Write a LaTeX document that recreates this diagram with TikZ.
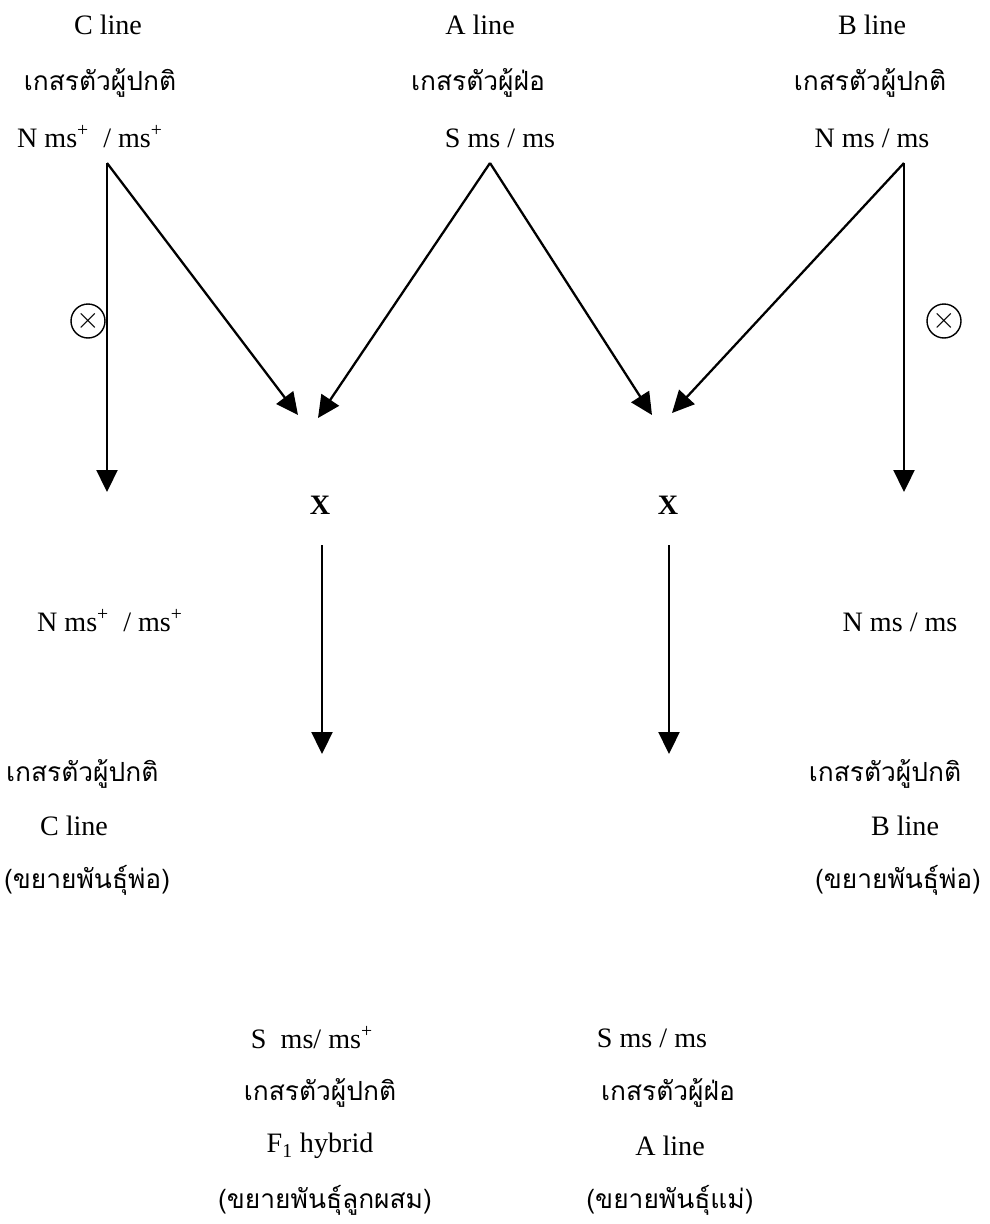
\documentclass[tikz,border=0pt]{standalone}
\usepackage{fontspec}
\setmainfont{Liberation Serif}
\newfontfamily\thaifont[Script=Thai]{Loma}
\usetikzlibrary{arrows.meta, positioning}
\newcommand{\lbsize}{\fontsize{16}{19}\selectfont}
\newcommand{\thsize}{\fontsize{15}{18}\selectfont}
\tikzset{
  arrowK/.style={-{Triangle[length=4.4mm, width=4.2mm]}, black, line width=1.3pt},
  lbl/.style={font=\lbsize, inner sep=1pt},
  thai/.style={font=\thaifont\thsize, inner sep=1pt},
  crossX/.style={font=\bfseries\lbsize, inner sep=1pt},
  selfX/.style={circle, draw, line width=0.8pt, minimum size=6.8mm, inner sep=0pt,
                font=\lbsize},
}
\begin{document}
\begin{tikzpicture}[x=0.02cm, y=-0.02cm]
  \useasboundingbox (0,0) rectangle (990,1224);
  % parent lines
  \node[lbl]  (cName) at (108,25)  {C line};
  \node[thai] (cPol)  at (100,83)  {เกสรตัวผู้ปกติ};
  \node[lbl]  (cGen)  at (90,137)  {N ms\textsuperscript{+}\ \ / ms\textsuperscript{+}};
  \node[lbl]  (aName) at (480,25)  {A line};
  \node[thai] (aPol)  at (478,83)  {เกสรตัวผู้ฝ่อ};
  \node[lbl]  (aGen)  at (500,138) {S ms / ms};
  \node[lbl]  (bName) at (872,25)  {B line};
  \node[thai] (bPol)  at (870,83)  {เกสรตัวผู้ปกติ};
  \node[lbl]  (bGen)  at (872,138) {N ms / ms};
  \coordinate (cTop) at (107,163);
  \coordinate (aTop) at (490,163);
  \coordinate (bTop) at (904,163);
  % crosses
  \coordinate (xlC) at (298,415);
  \coordinate (xlA) at (318,418);
  \coordinate (xrA) at (652,415);
  \coordinate (xrB) at (672,413);
  \node[crossX] (crossL) at (320,505) {X};
  \node[crossX] (crossR) at (668,505) {X};
  \draw[arrowK] (cTop) -- (xlC);
  \draw[arrowK] (aTop) -- (xlA);
  \draw[arrowK] (aTop) -- (xrA);
  \draw[arrowK] (bTop) -- (xrB);
  % selfing
  \node[selfX] (selfC) at (88,321)  {$\times$};
  \node[selfX] (selfB) at (944,321) {$\times$};
  \coordinate (cEnd) at (107,492);
  \coordinate (bEnd) at (904,492);
  \draw[arrowK] (cTop) -- (cEnd);
  \draw[arrowK] (bTop) -- (bEnd);
  \node[lbl] (cSelf) at (110,621) {N ms\textsuperscript{+}\ \ / ms\textsuperscript{+}};
  \node[lbl] (bSelf) at (900,622) {N ms / ms};
  \node[thai, anchor=west] (cPol2) at (4,774)  {เกสรตัวผู้ปกติ};
  \node[lbl]  (cName2) at (74,826)  {C line};
  \node[thai, anchor=west] (cUse)  at (2,880)  {(ขยายพันธุ์พ่อ)};
  \node[thai] (bPol2)  at (885,774) {เกสรตัวผู้ปกติ};
  \node[lbl]  (bName2) at (905,826) {B line};
  \node[thai] (bUse)   at (898,880) {(ขยายพันธุ์พ่อ)};
  % offspring
  \coordinate (fStart) at (322,545);
  \coordinate (fEnd)   at (322,754);
  \coordinate (aStart) at (669,545);
  \coordinate (aEnd)   at (669,754);
  \draw[arrowK] (fStart) -- (fEnd);
  \draw[arrowK] (aStart) -- (aEnd);
  \node[lbl]  (fGen)  at (312,1038) {S\ \ ms/ ms\textsuperscript{+}};
  \node[thai] (fPol)  at (320,1093) {เกสรตัวผู้ปกติ};
  \node[lbl]  (fName) at (320,1146) {F\textsubscript{1} hybrid};
  \node[thai] (fUse)  at (325,1200) {(ขยายพันธุ์ลูกผสม)};
  \node[lbl]  (aGen2) at (652,1038) {S ms / ms};
  \node[thai] (aPol2) at (668,1093) {เกสรตัวผู้ฝ่อ};
  \node[lbl]  (aName2) at (670,1146) {A line};
  \node[thai] (aUse)  at (670,1200) {(ขยายพันธุ์แม่)};
\end{tikzpicture}
\end{document}
